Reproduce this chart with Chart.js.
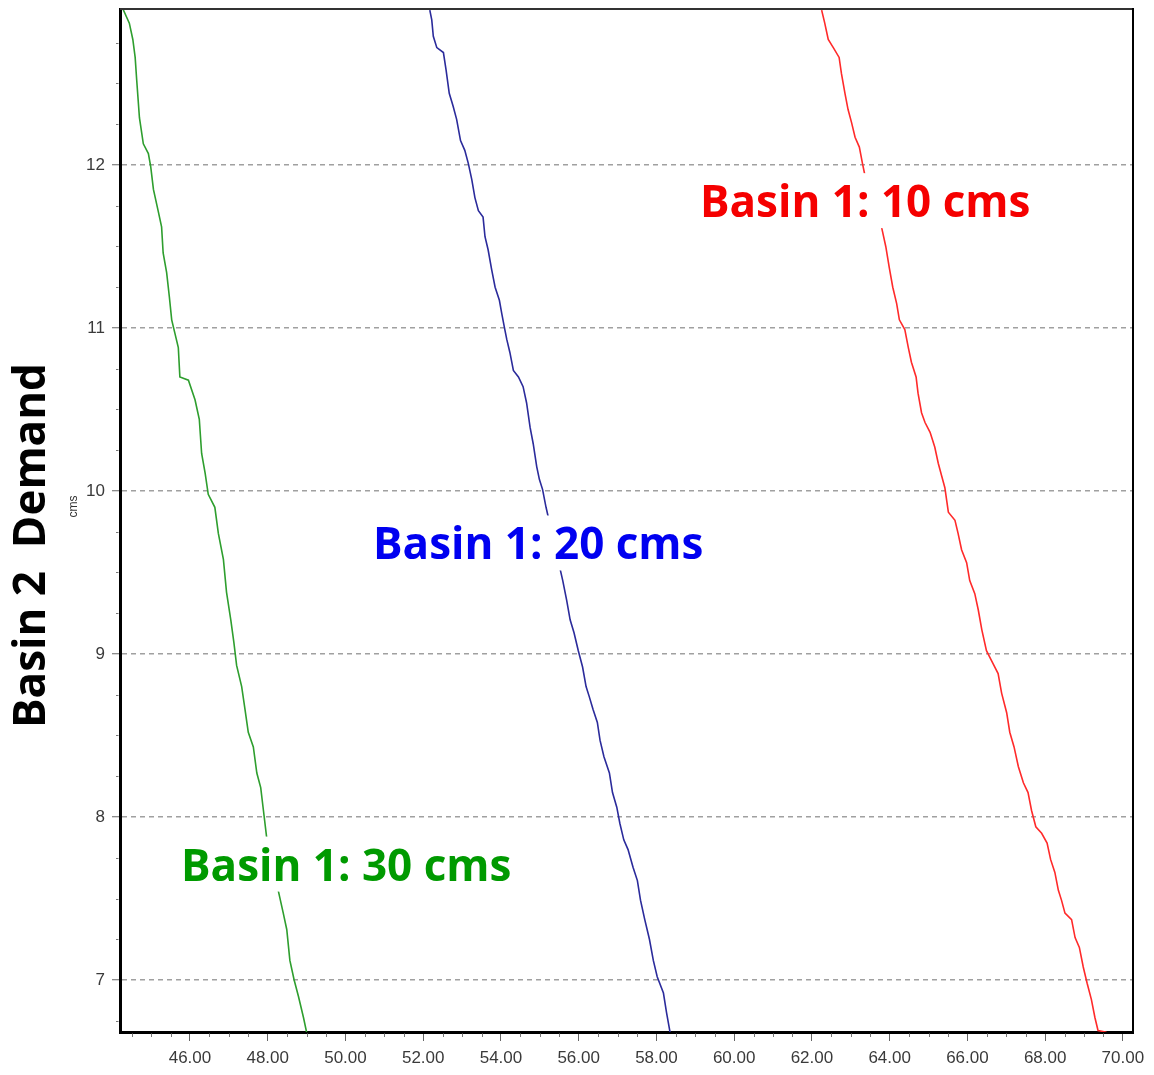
<!DOCTYPE html>
<html><head><meta charset="utf-8">
<script src="https://cdn.jsdelivr.net/npm/chart.js@4.4.1/dist/chart.umd.min.js"></script>
<style>html,body{margin:0;padding:0;background:#fff;}#wrap{width:1154px;height:1075px;position:relative;}</style>
</head><body><div id="wrap"><canvas id="c" width="1154" height="1075"></canvas></div>
<script>
// ---- data ----
const yAxisTitle = 'Basin 2  Demand';
const yAxisUnit = 'cms';
const seriesNames = ['Basin 1: 30 cms', 'Basin 1: 20 cms', 'Basin 1: 10 cms'];

const green_x = [44.27,44.44,44.53,44.59,44.63,44.70,44.80,44.93,44.99,45.06,45.18,45.27,45.31,45.40,45.47,45.53,45.61,45.70,45.74,45.96,46.13,46.24,46.30,46.39,46.47,46.64,46.73,46.86,46.94,47.05,47.13,47.20,47.33,47.41,47.50,47.63,47.72,47.82,47.89,47.97,48.27,48.40,48.49,48.57,48.68,48.79,48.92,49.00];
const green_y = [12.96,12.87,12.77,12.66,12.52,12.29,12.13,12.07,11.99,11.85,11.72,11.62,11.46,11.34,11.19,11.05,10.97,10.88,10.70,10.68,10.56,10.44,10.23,10.11,9.98,9.90,9.74,9.58,9.38,9.21,9.07,8.93,8.80,8.67,8.52,8.43,8.27,8.18,8.04,7.88,7.55,7.41,7.31,7.12,7.00,6.90,6.77,6.68];

const blue_x = [52.17,52.22,52.26,52.35,52.52,52.59,52.67,52.77,52.86,52.96,53.07,53.16,53.25,53.33,53.42,53.54,53.59,53.67,53.76,53.85,53.96,54.02,54.10,54.15,54.23,54.32,54.45,54.57,54.66,54.75,54.83,54.92,54.99,55.07,55.16,55.59,55.69,55.78,55.88,55.99,56.10,56.19,56.27,56.37,56.48,56.55,56.65,56.79,56.87,56.98,57.06,57.16,57.27,57.40,57.51,57.59,57.70,57.82,57.92,58.02,58.18,58.26,58.35];
const blue_y = [12.95,12.89,12.79,12.72,12.69,12.58,12.44,12.36,12.28,12.15,12.09,12.01,11.91,11.80,11.72,11.68,11.56,11.48,11.36,11.25,11.17,11.09,10.99,10.93,10.85,10.74,10.70,10.64,10.54,10.39,10.29,10.15,10.07,10.01,9.90,9.45,9.33,9.21,9.13,9.02,8.92,8.80,8.74,8.66,8.58,8.47,8.37,8.27,8.15,8.06,7.96,7.86,7.80,7.69,7.61,7.49,7.37,7.25,7.12,7.02,6.92,6.80,6.68];

const red_x = [62.25,62.33,62.42,62.55,62.70,62.76,62.85,62.93,63.02,63.11,63.22,63.30,63.36,63.79,63.90,63.99,64.08,64.18,64.25,64.39,64.48,64.56,64.68,64.73,64.82,64.91,65.04,65.16,65.25,65.34,65.42,65.51,65.68,65.76,65.85,65.98,66.06,66.19,66.28,66.37,66.49,66.62,66.79,66.88,67.01,67.09,67.20,67.31,67.44,67.56,67.65,67.76,67.91,68.05,68.14,68.25,68.34,68.42,68.51,68.68,68.77,68.88,68.98,69.08,69.19,69.28,69.36,69.58];
const red_y = [12.95,12.87,12.77,12.72,12.66,12.56,12.44,12.34,12.26,12.17,12.11,12.01,11.94,11.62,11.50,11.37,11.25,11.15,11.05,10.99,10.88,10.79,10.70,10.60,10.48,10.42,10.36,10.27,10.17,10.09,10.02,9.87,9.82,9.74,9.64,9.56,9.45,9.37,9.27,9.15,9.02,8.96,8.88,8.76,8.64,8.52,8.43,8.31,8.21,8.15,8.04,7.94,7.90,7.84,7.74,7.66,7.55,7.49,7.41,7.37,7.26,7.20,7.08,6.98,6.88,6.77,6.69,6.68];

// label anchors (left edge, baseline) in data units
const labelAnchorX = [45.77, 50.71, 59.12];
const labelAnchorY = [7.61, 9.58, 11.68];

// axis ranges / ticks
const xMin = 44.2, xMax = 70.26, xMajor = 2, xMinor = 0.5;
const yMin = 6.681, yMax = 12.957, yMajor = 1, yMinor = 0.25;

const lineColors = ['#2e9e2e', '#2b2b9b', '#ff2a2a'];
const labelColors = ['#009a00', '#0000f0', '#f50000'];

function pts(xs, ys){ return xs.map((v,i)=>({x:v, y:ys[i]})); }

const overlay = {
  id: 'overlay',
  afterDatasetsDraw(chart){
    const {ctx, scales:{x, y}} = chart;
    ctx.save();
    ctx.font = 'bold 44px "Open Sans"';
    ctx.textBaseline = 'alphabetic';
    ctx.textAlign = 'left';
    seriesNames.forEach((t,i)=>{
      const px = x.getPixelForValue(labelAnchorX[i]);
      const py = y.getPixelForValue(labelAnchorY[i]);
      const w = ctx.measureText(t).width;
      ctx.fillStyle = '#fff';
      ctx.fillRect(px-4, py-44, w+8, 55);
      ctx.fillStyle = labelColors[i];
      ctx.fillText(t, px, py);
    });
    ctx.restore();
  },
  afterDraw(chart){
    const {ctx, chartArea:a, scales:{x, y}} = chart;
    ctx.save();
    // top and right frame
    ctx.strokeStyle = '#333'; ctx.lineWidth = 2;
    ctx.beginPath(); ctx.moveTo(a.left, a.top); ctx.lineTo(a.right, a.top); ctx.stroke();
    ctx.strokeStyle = '#000';
    ctx.beginPath(); ctx.moveTo(a.right, a.top-1); ctx.lineTo(a.right, a.bottom); ctx.stroke();
    // minor ticks
    ctx.strokeStyle = '#777'; ctx.lineWidth = 1;
    for (let v = Math.ceil(xMin/xMinor)*xMinor; v <= xMax; v += xMinor){
      if (Math.abs(v/xMajor - Math.round(v/xMajor)) < 1e-6) continue;
      const px = Math.round(x.getPixelForValue(v)) + 0.5;
      ctx.beginPath(); ctx.moveTo(px, a.bottom+1.5); ctx.lineTo(px, a.bottom+5); ctx.stroke();
    }
    for (let v = Math.ceil(yMin/yMinor)*yMinor; v <= yMax; v += yMinor){
      if (Math.abs(v/yMajor - Math.round(v/yMajor)) < 1e-6) continue;
      const py = Math.round(y.getPixelForValue(v)) + 0.5;
      ctx.beginPath(); ctx.moveTo(a.left-1.5, py); ctx.lineTo(a.left-4, py); ctx.stroke();
    }
    // axis titles
    ctx.fillStyle = '#000';
    ctx.font = 'bold 44px "Open Sans"';
    ctx.textAlign = 'center'; ctx.textBaseline = 'alphabetic';
    ctx.save(); ctx.translate(45, (a.top+a.bottom)/2 + 25); ctx.rotate(-Math.PI/2);
    ctx.fillText(yAxisTitle, 0, 0); ctx.restore();
    ctx.fillStyle = '#333';
    ctx.font = '12px "Liberation Sans"';
    ctx.save(); ctx.translate(77, (a.top+a.bottom)/2 - 14); ctx.rotate(-Math.PI/2);
    ctx.fillText(yAxisUnit, 0, 0); ctx.restore();
    ctx.restore();
  }
};

function build(){
  new Chart(document.getElementById('c'), {
    type: 'line',
    data: {
      datasets: [
        {data: pts(green_x, green_y), borderColor: lineColors[0]},
        {data: pts(blue_x, blue_y), borderColor: lineColors[1]},
        {data: pts(red_x, red_y), borderColor: lineColors[2]}
      ].map(d=>Object.assign(d, {borderWidth: 1.6, pointRadius: 0, tension: 0, fill: false}))
    },
    options: {
      responsive: false, animation: false,
      layout: {padding: {top: 9, right: 21, left: 0, bottom: 0}},
      plugins: {legend: {display: false}, tooltip: {enabled: false}},
      scales: {
        x: {
          type: 'linear', min: xMin, max: xMax,
          afterFit(s){ s.height = 43; s.paddingLeft = 0; s.paddingRight = 0; },
          ticks: {stepSize: xMajor, includeBounds: false, autoSkip: false, maxRotation: 0,
                  padding: 7, color: '#3a3a3a', font: {family: '"Liberation Sans"', size: 17},
                  callback: v => Number(v).toFixed(2)},
          grid: {drawOnChartArea: false, drawTicks: true, tickLength: 9, tickColor: '#666', tickWidth: 1},
          border: {display: true, color: '#000', width: 3}
        },
        y: {
          type: 'linear', min: yMin, max: yMax,
          afterFit(s){ s.width = 120; s.paddingTop = 0; s.paddingBottom = 0; },
          ticks: {stepSize: yMajor, includeBounds: false, padding: 7, color: '#3a3a3a',
                  font: {family: '"Liberation Sans"', size: 17}},
          grid: {drawOnChartArea: true, color: '#a0a0a0', lineWidth: 1.5, drawTicks: true,
                 tickLength: 8, tickColor: '#666', tickWidth: 1},
          border: {display: true, color: '#000', width: 3, dash: [5, 4]}
        }
      }
    },
    plugins: [overlay]
  });
}
Promise.all([
  document.fonts.load('bold 44px "Open Sans"'),
  document.fonts.load('17px "Liberation Sans"')
]).then(build, build);
</script>
</body></html>
